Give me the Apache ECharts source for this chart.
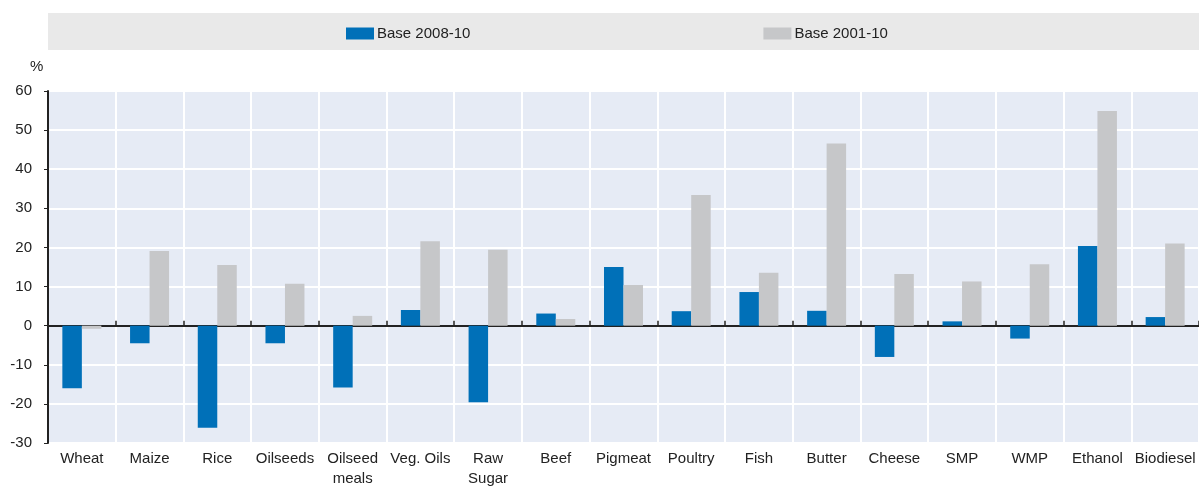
<!DOCTYPE html>
<html>
<head>
<meta charset="utf-8">
<script src="https://cdn.jsdelivr.net/npm/echarts@6/dist/echarts.min.js"></script>
<style>html,body{margin:0;padding:0;background:#fff;}#c{width:1199px;height:486px;}</style>
</head>
<body>
<div id="c"></div>
<script>
const categories = ['Wheat','Maize','Rice','Oilseeds','Oilseed\nmeals','Veg. Oils','Raw\nSugar','Beef','Pigmeat','Poultry','Fish','Butter','Cheese','SMP','WMP','Ethanol','Biodiesel'];
const base200810 = [-16.0,-4.5,-26.1,-4.5,-15.8,4.0,-19.6,3.1,15.0,3.7,8.6,3.8,-8.0,1.1,-3.3,20.4,2.2];
const base200110 = [-0.8,19.1,15.5,10.7,2.5,21.6,19.4,1.7,10.4,33.4,13.5,46.6,13.2,11.3,15.7,54.9,21.0];
const seriesNames = ['Base 2008-10','Base 2001-10'];

const FONT = '"Liberation Sans", Arial, sans-serif';
const chart = echarts.init(document.getElementById('c'), null, {renderer:'canvas'});
chart.setOption({
  animation: false,
  textStyle: {fontFamily: FONT},
  graphic: [
    {type:'rect', left:48, top:13, shape:{width:1151, height:37}, style:{fill:'#e9e9e9'}, z:-1},
    {type:'text', left:30, top:59, style:{text:'%', font:'15px ' + FONT, fill:'#222'}}
  ],
  legend: {
    left: 341, top: 21, itemWidth: 28, itemHeight: 12, itemGap: 293,
    icon: 'rect',
    textStyle: {fontSize: 15, color: '#222', fontFamily: FONT, padding:[0,0,0,-2]},
    data: seriesNames
  },
  grid: {left:48, right:0, top:91, bottom:43, show:true, backgroundColor:'#e6ebf5', borderWidth:0, outerBoundsMode:'none', containLabel:false},
  xAxis: [
    {type:'category', data: categories, position:'bottom',
     axisLine:{show:false, onZero:false}, axisTick:{show:false},
     splitLine:{show:true, lineStyle:{color:'#ffffff', width:2}},
     axisLabel:{color:'#222', fontSize:15, margin:6, lineHeight:20, interval:0, fontFamily: FONT}},
    {type:'category', data: categories, position:'bottom',
     axisLine:{show:true, onZero:true, onZeroAxisIndex:0, lineStyle:{color:'#222', width:2}},
     axisTick:{show:true, inside:true, length:5, lineStyle:{color:'#222', width:1.5}},
     axisLabel:{show:false}, splitLine:{show:false}}
  ],
  yAxis: {
    type:'value', min:-30, max:60, interval:10,
    axisLine:{show:true, lineStyle:{color:'#222', width:2}},
    axisTick:{show:true, length:4, lineStyle:{color:'#222'}},
    axisLabel:{color:'#222', fontSize:15, margin:16, fontFamily: FONT},
    splitLine:{show:true, lineStyle:{color:'#ffffff', width:2}}
  },
  series: [
    {name: seriesNames[0], type:'bar', xAxisIndex:0, data: base200810, barWidth:19.5, barGap:'0%',
     itemStyle:{color:'#0070b8'}},
    {name: seriesNames[1], type:'bar', xAxisIndex:0, data: base200110, barWidth:19.5, barGap:'0%',
     itemStyle:{color:'#c6c7c9'}}
  ]
});
</script>
</body>
</html>
